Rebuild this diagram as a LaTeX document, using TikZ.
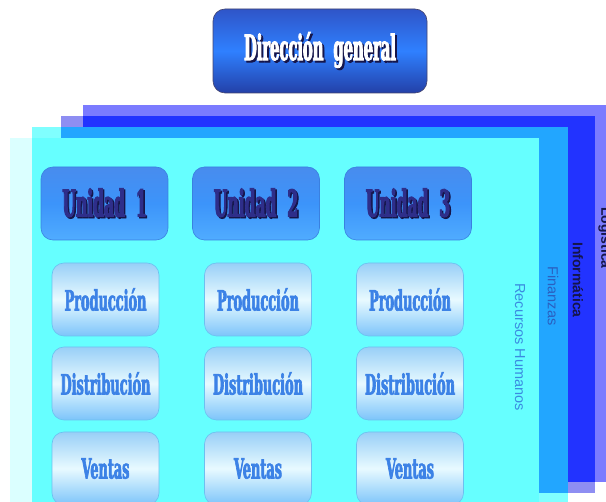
\documentclass[tikz,border=0pt]{standalone}
\usepackage{fontspec}
\setmainfont{Liberation Sans}
\newfontfamily\slab[FakeStretch=0.46, FakeBold=2.2]{DejaVu Serif}
\newfontfamily\slabN[FakeStretch=0.42, FakeBold=2.4]{DejaVu Serif}
\definecolor{logC}{HTML}{7B7BFF}
\definecolor{infoW}{HTML}{8E8EF2}
\definecolor{infoC}{HTML}{2233FF}
\definecolor{finW}{HTML}{80FFFF}
\definecolor{finC}{HTML}{22A6FF}
\definecolor{rhW}{HTML}{DBFFFF}
\definecolor{rhC}{HTML}{66FFFF}
\definecolor{navyT}{HTML}{2E2E8A}
\definecolor{navyS}{HTML}{15154A}
\definecolor{subT}{HTML}{3C82E6}
\definecolor{dirTop}{HTML}{2F55C8}
\definecolor{dirMid}{HTML}{2F80FF}
\definecolor{dirBot}{HTML}{2340A8}
\newcommand\shadowed[3]{\makebox[0pt][l]{\kern#3\raisebox{-#3}{\color{#2}#1}}#1}
\tikzset{
  dirbox/.style={rounded corners=12pt, minimum width=214pt, minimum height=84pt,
    draw=navyS!80, line width=0.6pt,
    top color=dirTop, bottom color=dirBot, middle color=dirMid,
    font=\slabN\bfseries\fontsize{35}{35}\selectfont, text=white},
  unibox/.style={rounded corners=12pt, minimum width=127pt, minimum height=73pt,
    draw={rgb,255:red,58;green,128;blue,224}, line width=0.6pt,
    top color={rgb,255:red,72;green,140;blue,238}, bottom color={rgb,255:red,80;green,172;blue,255},
    middle color={rgb,255:red,60;green,148;blue,250},
    font=\slabN\bfseries\fontsize{37}{37}\selectfont, text=navyT},
  subbox/.style={rounded corners=12pt, minimum width=107pt, minimum height=73pt,
    draw={rgb,255:red,108;green,192;blue,240}, line width=0.6pt,
    top color={rgb,255:red,152;green,207;blue,247}, bottom color={rgb,255:red,124;green,196;blue,250},
    middle color={rgb,255:red,232;green,250;blue,255},
    font=\slab\bfseries\fontsize{28}{28}\selectfont, text=subT},
  vlabel/.style={rotate=-90, font=\fontsize{14.5}{14.5}\selectfont, inner sep=0pt},
}
\begin{document}
\begin{tikzpicture}[x=1pt,y=-1pt]
\useasboundingbox (0,0) rectangle (606,502);
\clip (0,0) rectangle (606,502);
% layers
\fill[logC] (83,105) rectangle (613,482);
\fill[infoW] (61,116) rectangle (595,493);
\fill[infoC] (83,116) rectangle (595,482);
\fill[finW] (32,127) rectangle (568,504);
\fill[finC] (61,127) rectangle (568,493);
\fill[rhW] (10,138) rectangle (539,515);
\fill[rhC] (32,138) rectangle (539,504);
% layer labels
\node[vlabel, text={rgb,255:red,58;green,139;blue,224}] (rh) at (520,347) {Recursos Humanos};
\node[vlabel, text={rgb,255:red,42;green,95;blue,192}] (fin) at (553,296) {Finanzas};
\node[vlabel, text=navyS, font=\bfseries\fontsize{14}{14}\selectfont] (inf) at (578,280) {Informática};
\node[vlabel, text=navyS, font=\bfseries\fontsize{14}{14}\selectfont] (log) at (605,238) {Logística};
% top box
\node[dirbox] (dir) at (320,51) {\shadowed{Dirección\hspace{10pt}general}{navyS}{2pt}};
% units
\foreach \i/\x in {1/104.5, 2/256, 3/408}{
  \node[unibox] (u\i) at (\x,203.5) {\shadowed{Unidad\hspace{11pt}\i}{navyS}{1.5pt}};
}
\foreach \i/\x in {1/105.5, 2/258, 3/410}{
  \node[subbox] (p\i) at (\x,299.5) {Producción};
  \node[subbox] (d\i) at (\x,383.5) {Distribución};
  \node[subbox] (v\i) at (\x,468.5) {Ventas};
}
\end{tikzpicture}
\end{document}
